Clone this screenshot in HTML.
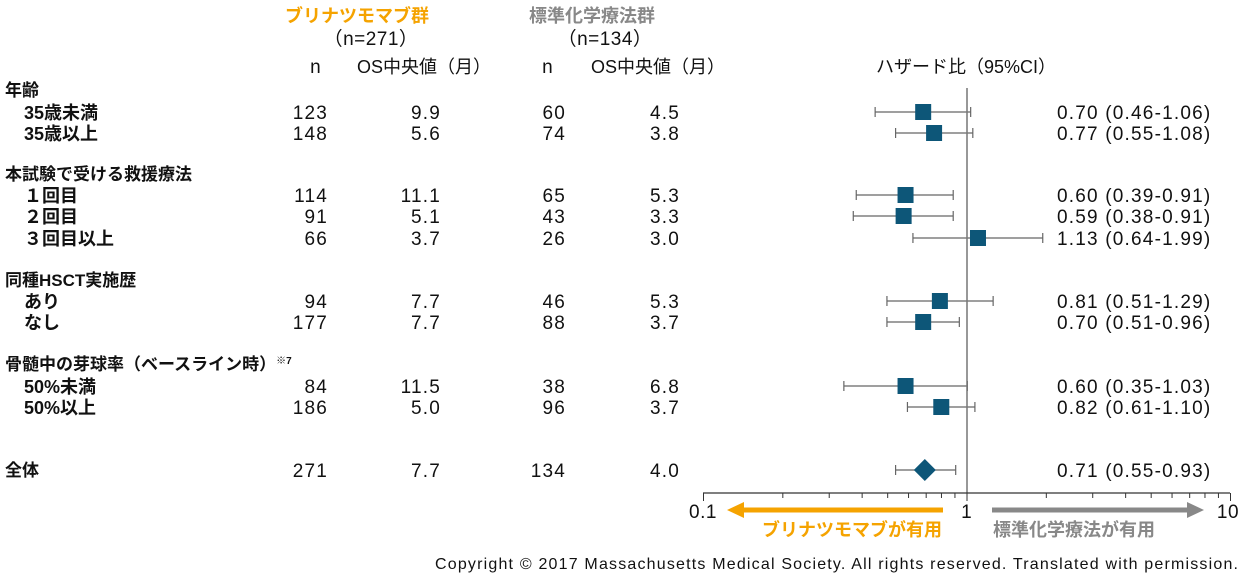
<!DOCTYPE html><html><head><meta charset="utf-8"><style>
body{margin:0;background:#fff}
svg text{font-family:"Liberation Sans","Noto Sans CJK JP",sans-serif;font-size:17px;fill:#111}
.b{font-weight:bold}
.n{font-size:19px;letter-spacing:1.2px}
.l{font-size:18px}
</style></head><body>
<svg width="1245" height="574" viewBox="0 0 1245 574" xmlns="http://www.w3.org/2000/svg">
<text x="357" y="22" text-anchor="middle" style="fill:#f5a300;font-size:18px" class="b">ブリナツモマブ群</text>
<text x="371" y="45" text-anchor="middle" class="n" style="letter-spacing:0.5px">（n=271）</text>
<text x="592" y="22" text-anchor="middle" style="fill:#888;font-size:18px" class="b">標準化学療法群</text>
<text x="605" y="45" text-anchor="middle" class="n" style="letter-spacing:0.5px">（n=134）</text>
<text x="316" y="73" text-anchor="middle" class="n">n</text>
<text x="424" y="73" text-anchor="middle" class="l">OS中央値（月）</text>
<text x="548" y="73" text-anchor="middle" class="n">n</text>
<text x="658" y="73" text-anchor="middle" class="l">OS中央値（月）</text>
<text x="966" y="73" text-anchor="middle" class="l">ハザード比（95%CI）</text>
<g class="b l">
<text x="5" y="96">年齢</text>
<text x="5" y="180">本試験で受ける救援療法</text>
<text x="5" y="286">同種HSCT実施歴</text>
<text x="5" y="370">骨髄中の芽球率（ベースライン時）<tspan font-size="10" dy="-6">※7</tspan></text>
<text x="5" y="476">全体</text>
</g>
<g id="rows"></g>
<line x1="967" y1="88" x2="967" y2="493" stroke="#777" stroke-width="1.5"/>
<line x1="703" y1="493" x2="1230" y2="493" stroke="#333" stroke-width="1.2"/>
<g stroke="#333" stroke-width="1" id="ticks"></g>
<text x="703" y="518" text-anchor="middle" class="n" style="letter-spacing:0.5px">0.1</text>
<text x="967" y="518" text-anchor="middle" class="n">1</text>
<text x="1228" y="518" text-anchor="middle" class="n" style="letter-spacing:0.5px">10</text>
<line x1="943" y1="510" x2="742" y2="510" stroke="#f5a300" stroke-width="5"/>
<polygon points="727,510 744,502 744,518" fill="#f5a300"/>
<line x1="992" y1="510" x2="1190" y2="510" stroke="#888" stroke-width="5"/>
<polygon points="1204,510 1187,502 1187,518" fill="#888"/>
<text x="942" y="536" text-anchor="end" style="fill:#f5a300" class="b l">ブリナツモマブが有用</text>
<text x="993" y="536" style="fill:#888" class="b l">標準化学療法が有用</text>
<text x="435" y="569" textLength="803" lengthAdjust="spacing" style="font-size:16px">Copyright © 2017 Massachusetts Medical Society. All rights reserved. Translated with permission.</text>
</svg>
<script>
const rows=[
["35歳未満",112,123,"9.9",60,"4.5",0.70,0.46,1.06,"0.70 (0.46-1.06)"],
["35歳以上",133,148,"5.6",74,"3.8",0.77,0.55,1.08,"0.77 (0.55-1.08)"],
["１回目",195,114,"11.1",65,"5.3",0.60,0.39,0.91,"0.60 (0.39-0.91)"],
["２回目",216,91,"5.1",43,"3.3",0.59,0.38,0.91,"0.59 (0.38-0.91)"],
["３回目以上",238,66,"3.7",26,"3.0",1.13,0.64,1.99,"1.13 (0.64-1.99)"],
["あり",301,94,"7.7",46,"5.3",0.81,0.51,1.29,"0.81 (0.51-1.29)"],
["なし",322,177,"7.7",88,"3.7",0.70,0.51,0.96,"0.70 (0.51-0.96)"],
["50%未満",386,84,"11.5",38,"6.8",0.60,0.35,1.03,"0.60 (0.35-1.03)"],
["50%以上",407,186,"5.0",96,"3.7",0.82,0.61,1.10,"0.82 (0.61-1.10)"],
["",470,271,"7.7",134,"4.0",0.71,0.55,0.93,"0.71 (0.55-0.93)"]];
const X=v=>964+263.5*Math.log10(v);
let s="";
rows.forEach((r,i)=>{const y=r[1]+7;
if(r[0])s+=`<text x="24" y="${y}" class="b l">${r[0]}</text>`;
s+=`<text x="328" y="${y}" text-anchor="end" class="n">${r[2]}</text><text x="441" y="${y}" text-anchor="end" class="n">${r[3]}</text><text x="566" y="${y}" text-anchor="end" class="n">${r[4]}</text><text x="680" y="${y}" text-anchor="end" class="n">${r[5]}</text><text x="1057" y="${y}" class="n">${r[9]}</text>`;
const a=X(r[7]),b=X(r[8]),c=X(r[6]),yy=r[1];
s+=`<g stroke="#666" stroke-width="1.2"><line x1="${a}" y1="${yy}" x2="${b}" y2="${yy}"/><line x1="${a}" y1="${yy-5}" x2="${a}" y2="${yy+5}"/><line x1="${b}" y1="${yy-5}" x2="${b}" y2="${yy+5}"/></g>`;
if(i==9)s+=`<polygon points="${c},${yy-11} ${c+11},${yy} ${c},${yy+11} ${c-11},${yy}" fill="#0d5678"/>`;
else s+=`<rect x="${c-8}" y="${yy-8}" width="16" height="16" fill="#0d5678"/>`;
});
document.getElementById("rows").innerHTML=s;
let t="";
const XA=v=>967+263.5*Math.log10(v);
for(let d=0.1;d<=1;d*=10)for(let k=1;k<=10;k++){const x=XA(d*k);const L=(k==1||k==10)?8:5;t+=`<line x1="${x}" y1="493" x2="${x}" y2="${493+L}"/>`;}
document.getElementById("ticks").innerHTML=t;
</script>
</body></html>
